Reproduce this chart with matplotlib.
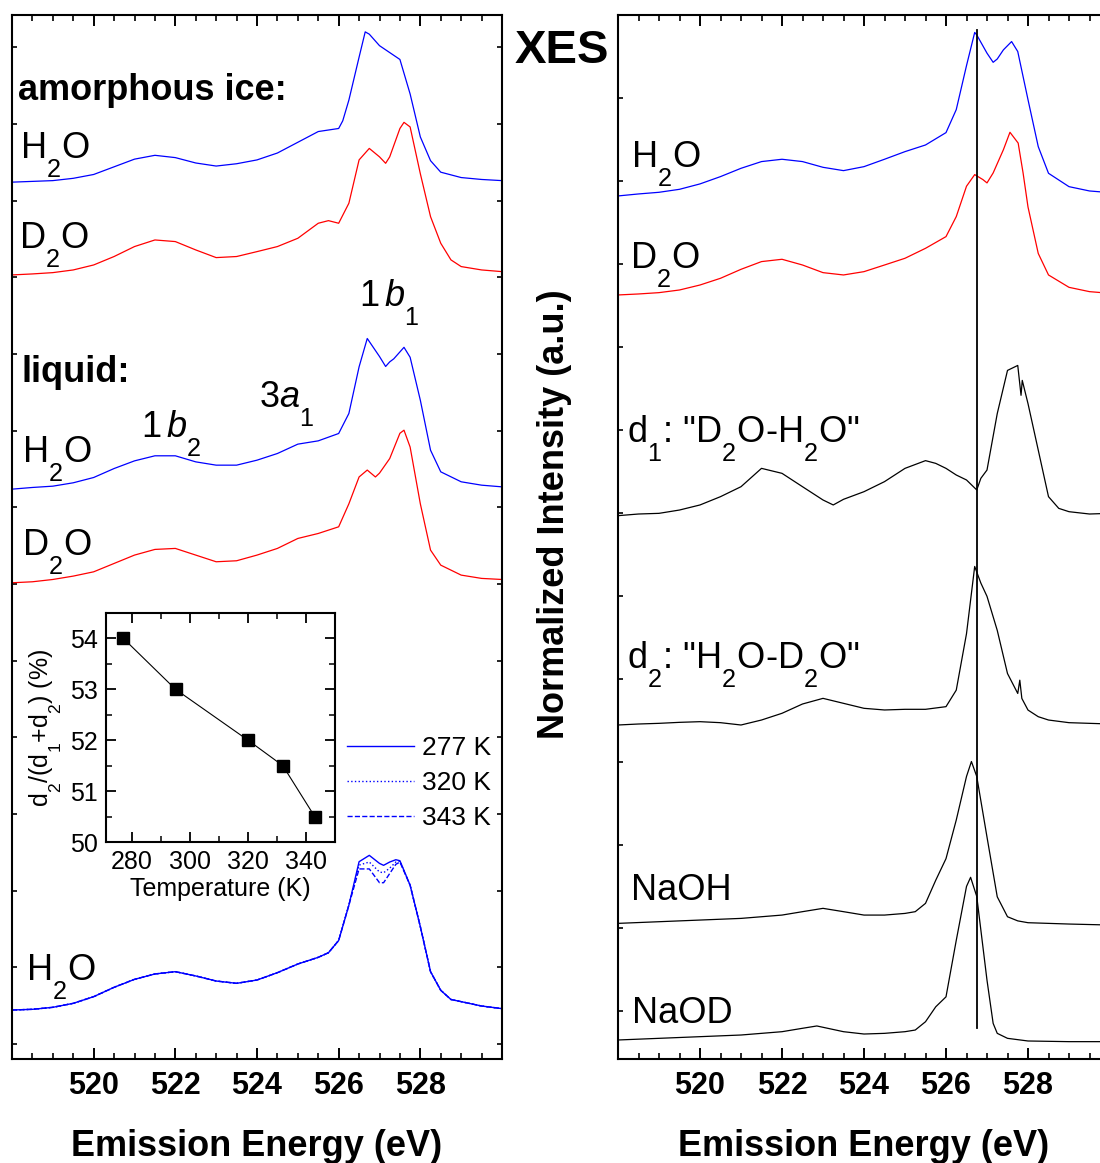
import numpy as np
import matplotlib.pyplot as plt
import matplotlib._mathtext as mt
from matplotlib.ticker import MultipleLocator

plt.rcParams['font.family'] = ['Liberation Sans', 'DejaVu Sans']
plt.rcParams['mathtext.fontset'] = 'custom'
plt.rcParams['mathtext.rm'] = 'Liberation Sans'
plt.rcParams['mathtext.it'] = 'Liberation Sans:italic'
plt.rcParams['mathtext.bf'] = 'Liberation Sans:bold'
# subscripts in the original sit lower (top of the digit at the baseline)
mt.FontConstantsBase.sub1 = 0.95

# ---- left panel spectra (energy in eV, intensity in a.u. above baseline) ----
e_ice_h2o = [518, 518.5, 519, 519.5, 520, 520.5, 521, 521.5, 522, 522.5, 523, 523.5, 524, 524.5,
             525, 525.5, 526, 526.1, 526.25, 526.5, 526.65, 526.75, 527, 527.25, 527.5, 527.75,
             528, 528.25, 528.5, 529, 529.5, 530]
i_ice_h2o = [0, 0.01, 0.02, 0.05, 0.10, 0.20, 0.30, 0.35, 0.32, 0.25, 0.21, 0.24, 0.29, 0.38,
             0.52, 0.66, 0.70, 0.80, 1.07, 1.63, 1.96, 1.93, 1.78, 1.69, 1.60, 1.15,
             0.59, 0.28, 0.13, 0.06, 0.035, 0.02]

e_ice_d2o = [518, 518.5, 519, 519.5, 520, 520.5, 521, 521.5, 522, 522.5, 523, 523.5, 524, 524.5,
             525, 525.5, 525.75, 526, 526.25, 526.5, 526.75, 527, 527.15, 527.25, 527.5, 527.6,
             527.75, 528, 528.25, 528.5, 528.75, 529, 529.5, 530]
i_ice_d2o = [0, 0.013, 0.03, 0.065, 0.13, 0.24, 0.37, 0.456, 0.435, 0.326, 0.226, 0.24, 0.304, 0.37,
             0.478, 0.674, 0.708, 0.674, 0.935, 1.50, 1.65, 1.54, 1.456, 1.54, 1.91, 1.99,
             1.93, 1.32, 0.76, 0.413, 0.196, 0.109, 0.065, 0.043]

e_liq_h2o = [518, 518.5, 519, 519.5, 520, 520.5, 521, 521.5, 522, 522.5, 523, 523.5, 524, 524.5,
             525, 525.5, 526, 526.25, 526.5, 526.7, 527, 527.15, 527.25, 527.35, 527.5, 527.6,
             527.75, 528, 528.25, 528.5, 529, 529.5, 530]
i_liq_h2o = [0, 0.022, 0.039, 0.083, 0.152, 0.269, 0.369, 0.435, 0.435, 0.356, 0.313, 0.313, 0.378, 0.465,
             0.587, 0.63, 0.726, 0.987, 1.595, 1.965, 1.73, 1.60, 1.66, 1.70, 1.79, 1.85,
             1.72, 1.16, 0.508, 0.226, 0.096, 0.052, 0.03]

e_liq_d2o = [518, 518.5, 519, 519.5, 520, 520.5, 521, 521.5, 522, 522.5, 523, 523.5, 524, 524.5,
             525, 525.5, 526, 526.25, 526.5, 526.7, 526.9, 527, 527.25, 527.5, 527.6, 527.75,
             528, 528.25, 528.5, 529, 529.5, 530]
i_liq_d2o = [0, 0.013, 0.043, 0.087, 0.143, 0.252, 0.361, 0.435, 0.448, 0.361, 0.274, 0.287, 0.361, 0.448,
             0.578, 0.643, 0.73, 1.03, 1.38, 1.47, 1.38, 1.43, 1.62, 1.95, 1.99, 1.77,
             1.03, 0.426, 0.23, 0.10, 0.057, 0.043]

# liquid H2O at three temperatures
e_temp = [518, 518.5, 519, 519.5, 520, 520.5, 521, 521.5, 522, 522.5, 523, 523.5, 524, 524.5,
          525, 525.5, 525.75, 526, 526.25, 526.5, 526.75, 527, 527.1, 527.25, 527.4, 527.5,
          527.75, 528, 528.25, 528.5, 528.75, 529, 529.5, 530]
i_277 = [0, 0.009, 0.035, 0.087, 0.174, 0.296, 0.40, 0.47, 0.50, 0.444, 0.378, 0.348, 0.391, 0.487,
         0.60, 0.687, 0.747, 0.907, 1.367, 1.934, 2.017, 1.912, 1.887, 1.93, 1.96, 1.947,
         1.627, 1.087, 0.50, 0.257, 0.137, 0.109, 0.052, 0.018]
i_320 = [0, 0.009, 0.035, 0.087, 0.174, 0.296, 0.40, 0.47, 0.50, 0.444, 0.378, 0.348, 0.391, 0.487,
         0.60, 0.687, 0.747, 0.907, 1.367, 1.89, 1.93, 1.80, 1.79, 1.85, 1.93, 1.94,
         1.627, 1.087, 0.50, 0.257, 0.137, 0.109, 0.052, 0.018]
i_343 = [0, 0.009, 0.035, 0.087, 0.174, 0.296, 0.40, 0.47, 0.50, 0.444, 0.378, 0.348, 0.391, 0.487,
         0.60, 0.687, 0.747, 0.907, 1.367, 1.84, 1.84, 1.66, 1.66, 1.78, 1.90, 1.93,
         1.627, 1.087, 0.50, 0.257, 0.137, 0.109, 0.052, 0.018]
temp_labels = ['277 K', '320 K', '343 K']

# inset: d2/(d1+d2) versus temperature
temp_k = [277, 295, 320, 332, 343]
ratio_pct = [54.0, 53.0, 52.0, 51.5, 50.5]

# ---- right panel spectra ----
e_xes_h2o = [518, 518.5, 519, 519.5, 520, 520.5, 521, 521.5, 522, 522.5, 523, 523.5, 524, 524.5,
             525, 525.5, 526, 526.25, 526.5, 526.7, 526.75, 527, 527.15, 527.25, 527.4, 527.6,
             527.75, 528, 528.25, 528.5, 529, 529.5, 530]
i_xes_h2o = [0, 0.024, 0.044, 0.08, 0.145, 0.233, 0.333, 0.414, 0.442, 0.414, 0.345, 0.305, 0.353, 0.442,
             0.534, 0.614, 0.763, 1.04, 1.57, 1.97, 1.94, 1.72, 1.61, 1.65, 1.76, 1.86,
             1.74, 1.16, 0.594, 0.273, 0.112, 0.06, 0.04]

e_xes_d2o = [518, 518.5, 519, 519.5, 520, 520.5, 521, 521.5, 522, 522.5, 523, 523.5, 524, 524.5,
             525, 525.5, 526, 526.25, 526.5, 526.7, 526.9, 527, 527.15, 527.4, 527.56, 527.76,
             527.88, 528, 528.25, 528.5, 529, 529.5, 530]
i_xes_d2o = [0, 0.012, 0.028, 0.06, 0.12, 0.201, 0.309, 0.402, 0.43, 0.361, 0.269, 0.241, 0.281, 0.361,
             0.442, 0.562, 0.703, 0.944, 1.31, 1.45, 1.39, 1.35, 1.47, 1.75, 1.96, 1.83,
             1.47, 1.06, 0.50, 0.241, 0.092, 0.04, 0.02]

e_d1 = [518, 518.5, 519, 519.5, 520, 520.5, 521, 521.5, 522, 522.5, 523, 523.25, 523.5, 524,
        524.5, 525, 525.5, 525.75, 526, 526.25, 526.5, 526.75, 526.85, 527, 527.25, 527.5,
        527.75, 527.83, 527.86, 528, 528.25, 528.5, 528.75, 529, 529.5, 530]
i_d1 = [0, 0.02, 0.028, 0.068, 0.129, 0.229, 0.349, 0.57, 0.51, 0.349, 0.189, 0.129, 0.197, 0.289,
        0.41, 0.57, 0.663, 0.63, 0.57, 0.49, 0.43, 0.31, 0.45, 0.55, 1.23, 1.75,
        1.81, 1.45, 1.63, 1.35, 0.79, 0.229, 0.088, 0.048, 0.02, 0.028]

e_d2 = [518, 518.5, 519, 519.5, 520, 520.5, 521, 521.5, 522, 522.5, 523, 523.5, 524, 524.5,
        525, 525.5, 526, 526.25, 526.5, 526.7, 526.85, 527, 527.25, 527.5, 527.75, 527.8,
        527.85, 528, 528.25, 528.5, 529, 529.5, 530]
i_d2 = [0, 0.012, 0.02, 0.032, 0.04, 0.028, 0.0, 0.06, 0.141, 0.253, 0.321, 0.261, 0.201, 0.181,
        0.189, 0.189, 0.221, 0.42, 1.10, 1.91, 1.71, 1.55, 1.14, 0.62, 0.38, 0.54,
        0.32, 0.18, 0.10, 0.06, 0.028, 0.02, 0.012]

e_naoh = [518, 519, 520, 521, 522, 522.5, 523, 523.5, 524, 524.5, 525, 525.25, 525.5, 525.75,
          526, 526.25, 526.5, 526.62, 526.75, 527, 527.25, 527.5, 527.75, 528, 529, 530]
i_naoh = [0, 0.02, 0.04, 0.06, 0.10, 0.141, 0.181, 0.141, 0.10, 0.10, 0.12, 0.141, 0.241, 0.52,
          0.78, 1.245, 1.77, 1.95, 1.77, 1.04, 0.32, 0.08, 0.03, 0.008, -0.008, -0.02]

e_naod = [518, 519, 520, 521, 522, 522.5, 522.85, 523.5, 524, 524.5, 525, 525.25, 525.5, 525.75,
          526, 526.25, 526.5, 526.6, 526.75, 527, 527.15, 527.25, 527.5, 528, 529, 530]
i_naod = [0, 0.02, 0.04, 0.06, 0.10, 0.141, 0.169, 0.10, 0.072, 0.08, 0.10, 0.12, 0.22, 0.40,
          0.52, 1.20, 1.85, 1.96, 1.73, 0.72, 0.20, 0.08, 0.02, -0.012, -0.02, -0.02]

ref_energy = 526.76  # vertical reference line

BLUE = '#0000ff'
RED = '#ff0000'

W, H = 1100, 1163
fig = plt.figure(figsize=(W / 100, H / 100), dpi=100)


def px_rect(left, top, right, bottom):
    return [left / W, 1 - bottom / H, (right - left) / W, (bottom - top) / H]


def style_main(ax):
    ax.set_xlim(518, 530)
    ax.set_xticks([520, 522, 524, 526, 528])
    ax.xaxis.set_minor_locator(MultipleLocator(0.5))
    ax.yaxis.set_major_locator(MultipleLocator(1))
    ax.tick_params(axis='x', which='major', direction='in', top=True, length=8, width=1.4,
                   pad=9, labelsize=22)
    ax.tick_params(axis='x', which='minor', direction='in', top=True, length=4.5, width=1.2)
    ax.tick_params(axis='y', which='major', direction='in', right=True, length=3.5, width=1.2,
                   labelleft=False)
    for lab in ax.get_xticklabels():
        lab.set_fontweight('bold')
    for s in ax.spines.values():
        s.set_linewidth(1.5)
    ax.set_xlabel('Emission Energy (eV)', fontsize=26, fontweight='bold', labelpad=20)


# ---------------- left panel ----------------
axL = fig.add_axes(px_rect(12, 15, 502, 1059))
axL.set_ylim(-0.196, 13.42)
style_main(axL)

axL.plot(e_ice_h2o, np.array(i_ice_h2o) + 11.24, color=BLUE, lw=0.9)
axL.plot(e_ice_d2o, np.array(i_ice_d2o) + 10.03, color=RED, lw=0.9)
axL.plot(e_liq_h2o, np.array(i_liq_h2o) + 7.236, color=BLUE, lw=0.9)
axL.plot(e_liq_d2o, np.array(i_liq_d2o) + 6.015, color=RED, lw=0.9)
h277, = axL.plot(e_temp, np.array(i_277) + 0.443, color=BLUE, lw=1.0, ls='-')
h320, = axL.plot(e_temp, np.array(i_320) + 0.443, color=BLUE, lw=1.0, ls=':')
h343, = axL.plot(e_temp, np.array(i_343) + 0.443, color=BLUE, lw=1.0, ls='--')

t_kw = dict(fontsize=26, va='baseline', ha='left')
axL.text(518.15, 12.31, 'amorphous ice:', fontweight='bold', **t_kw)
axL.text(518.2, 11.56, r'H$_2$O', **t_kw)
axL.text(518.17, 10.38, r'D$_2$O', **t_kw)
axL.text(526.49, 9.63, r'1$\,\mathit{b}_\mathrm{1}$', **t_kw)
axL.text(518.24, 8.63, 'liquid:', fontweight='bold', **t_kw)
axL.text(524.05, 8.31, r'3$\mathit{a}_\mathrm{1}$', **t_kw)
axL.text(521.17, 7.91, r'1$\,\mathit{b}_\mathrm{2}$', **t_kw)
axL.text(518.24, 7.59, r'H$_2$O', **t_kw)
axL.text(518.24, 6.38, r'D$_2$O', **t_kw)
axL.text(518.34, 0.83, r'H$_2$O', **t_kw)

fig.legend([h277, h320, h343], temp_labels, loc='upper left',
           bbox_to_anchor=(347 / W, 1 - 736 / H), frameon=False, borderpad=0,
           borderaxespad=0, handlelength=2.55, handletextpad=0.3, labelspacing=0.42,
           fontsize=19)

# ---------------- inset ----------------
axI = fig.add_axes(px_rect(106, 613, 335, 842))
axI.plot(temp_k, ratio_pct, color='black', lw=0.8, marker='s', markersize=9,
         markerfacecolor='black', markeredgecolor='black')
axI.set_xlim(271, 350)
axI.set_ylim(50, 54.5)
axI.xaxis.set_major_locator(MultipleLocator(20))
axI.xaxis.set_minor_locator(MultipleLocator(10))
axI.yaxis.set_major_locator(MultipleLocator(1))
axI.yaxis.set_minor_locator(MultipleLocator(0.5))
axI.tick_params(which='major', direction='in', top=True, right=True, length=7, width=1.3,
                labelsize=18, pad=6)
axI.tick_params(which='minor', direction='in', top=True, right=True, length=4, width=1.1)
for s in axI.spines.values():
    s.set_linewidth(1.5)
axI.set_xlabel('Temperature (K)', fontsize=18, labelpad=2)
axI.set_ylabel(r'd$_2$/(d$_1$+d$_2$) (%)', fontsize=18, labelpad=4)

# ---------------- right panel ----------------
axR = fig.add_axes(px_rect(618, 15, 1110, 1059))
axR.set_ylim(-0.578, 12)
style_main(axR)

axR.plot(e_xes_h2o, np.array(i_xes_h2o) + 9.82, color=BLUE, lw=0.9)
axR.plot(e_xes_d2o, np.array(i_xes_d2o) + 8.627, color=RED, lw=0.9)
axR.plot(e_d1, np.array(i_d1) + 5.968, color='black', lw=0.9)
axR.plot(e_d2, np.array(i_d2) + 3.446, color='black', lw=0.9)
axR.plot(e_naoh, np.array(i_naoh) + 1.056, color='black', lw=0.9)
axR.plot(e_naod, np.array(i_naod) - 0.349, color='black', lw=0.9)
axR.plot([ref_energy, ref_energy], [-0.205, 11.82], color='black', lw=1.3)

axR.text(518.32, 10.17, r'H$_2$O', **t_kw)
axR.text(518.29, 8.95, r'D$_2$O', **t_kw)
axR.text(518.22, 6.86, r'd$_1$: "D$_2$O-H$_2$O"', **t_kw)
axR.text(518.22, 4.13, r'd$_2$: "H$_2$O-D$_2$O"', **t_kw)
axR.text(518.32, 1.34, 'NaOH', **t_kw)
axR.text(518.34, -0.145, 'NaOD', **t_kw)

fig.text(515 / W, 1 - 63 / H, 'XES', fontsize=34, fontweight='bold', ha='left', va='baseline')
fig.text(555 / W, 1 - 514 / H, 'Normalized Intensity (a.u.)', fontsize=26, fontweight='bold',
         rotation=90, ha='center', va='center')

fig.savefig('out.png', dpi=100)
